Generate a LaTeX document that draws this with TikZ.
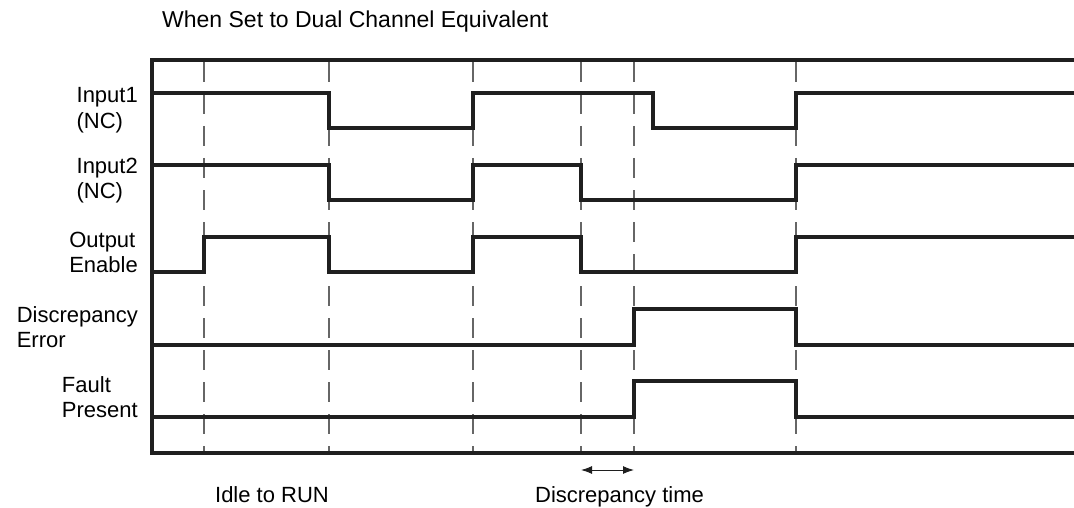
\documentclass[tikz,border=0pt]{standalone}
\usepackage{fontspec}
\setmainfont{Liberation Sans}
\usetikzlibrary{arrows.meta}
\begin{document}
\begin{tikzpicture}[x=1pt,y=-1pt,
  sig/.style={line width=4pt, line join=miter, color=black!88},
  frame/.style={line width=4pt, line join=miter, color=black!88},
  guide/.style={line width=1.8pt, color=black!60, dash pattern=on 20pt off 12pt},
  lbl/.style={font=\fontsize{22}{25.5}\selectfont, align=left, anchor=east, inner sep=0pt},
  txt/.style={font=\fontsize{22}{26}\selectfont, inner sep=0pt, anchor=base},
  dimarrow/.style={{Latex[length=11pt,width=8pt]}-{Latex[length=11pt,width=8pt]}, line width=1pt, color=black!88}]
\useasboundingbox (0,0) rectangle (1074,508);
% title
\node[font=\fontsize{23}{27}\selectfont, inner sep=0pt, anchor=base west] (title) at (162,28) {When Set to Dual Channel Equivalent};
% guide lines
\foreach \x in {204,329,473,581,634,796} \draw[guide] (\x,62) -- (\x,451);
% frame
\draw[frame] (1074,60) -- (151.5,60) -- (151.5,453) -- (1074,453);
% Input1
\draw[sig] (151.5,93) -- (329,93) -- (329,128) -- (473,128) -- (473,93) -- (653,93) -- (653,128) -- (796,128) -- (796,93) -- (1074,93);
% Input2
\draw[sig] (151.5,165) -- (329,165) -- (329,200) -- (473,200) -- (473,165) -- (581,165) -- (581,200) -- (796,200) -- (796,165) -- (1074,165);
% Output Enable
\draw[sig] (151.5,272) -- (204,272) -- (204,237) -- (329,237) -- (329,272) -- (473,272) -- (473,237) -- (581,237) -- (581,272) -- (796,272) -- (796,237) -- (1074,237);
% Discrepancy Error
\draw[sig] (151.5,345) -- (634,345) -- (634,309) -- (796,309) -- (796,345) -- (1074,345);
% Fault Present
\draw[sig] (151.5,417) -- (634,417) -- (634,381) -- (796,381) -- (796,417) -- (1074,417);
% labels
\node[lbl] (in1) at (138,110) {Input1\\(NC)};
\node[lbl] (in2) at (138,180.5) {Input2\\(NC)};
\node[lbl] (oe) at (138,252.5) {Output\\Enable};
\node[lbl] (de) at (138,327) {Discrepancy\\Error};
\node[lbl] (fp) at (138,397) {Fault\\Present};
% bottom
\node[txt] (idle) at (272,502) {Idle to RUN};
\node[txt] (dt) at (619.5,502) {Discrepancy time};
\coordinate (da) at (581,470);
\coordinate (db) at (634,470);
\draw[dimarrow] (da) -- (db);
\end{tikzpicture}
\end{document}
